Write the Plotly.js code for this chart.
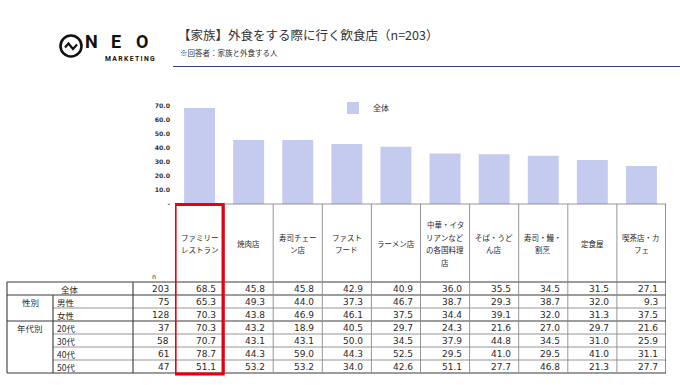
<!DOCTYPE html>
<html>
<head>
<meta charset="utf-8">
<script src="https://cdn.plot.ly/plotly-3.0.1.min.js"></script>
<style>html,body{margin:0;padding:0;background:#fff;}#chart{width:680px;height:385px;}</style>
</head>
<body>
<div id="chart"></div>
<script>
// ---------- DATA ----------
const categories = [
  "ファミリー\nレストラン", "焼肉店", "寿司チェー\nン店", "ファスト\nフード", "ラーメン店",
  "中華・イタ\nリアンなど\nの各国料理\n店", "そば・うど\nん店", "寿司・鰻・\n割烹", "定食屋", "喫茶店・カ\nフェ"
];
const overall = [68.5, 45.8, 45.8, 42.9, 40.9, 36.0, 35.5, 34.5, 31.5, 27.1];
const seriesName = "全体";
const yTickVals = [0, 10, 20, 30, 40, 50, 60, 70];
const yTickText = ["-", "10.0", "20.0", "30.0", "40.0", "50.0", "60.0", "70.0"];

const rowGroups = ["", "性別", "", "年代別", "", "", ""];
const rowLabels = ["全体", "男性", "女性", "20代", "30代", "40代", "50代"];
const rowN = [203, 75, 128, 37, 58, 61, 47];
const rowAll    = [68.5, 45.8, 45.8, 42.9, 40.9, 36.0, 35.5, 34.5, 31.5, 27.1];
const rowMale   = [65.3, 49.3, 44.0, 37.3, 46.7, 38.7, 29.3, 38.7, 32.0, 9.3];
const rowFemale = [70.3, 43.8, 46.9, 46.1, 37.5, 34.4, 39.1, 32.0, 31.3, 37.5];
const row20s    = [70.3, 43.2, 18.9, 40.5, 29.7, 24.3, 21.6, 27.0, 29.7, 21.6];
const row30s    = [70.7, 43.1, 43.1, 50.0, 34.5, 37.9, 44.8, 34.5, 31.0, 25.9];
const row40s    = [78.7, 44.3, 59.0, 44.3, 52.5, 29.5, 41.0, 29.5, 41.0, 31.1];
const row50s    = [51.1, 53.2, 53.2, 34.0, 42.6, 51.1, 27.7, 46.8, 21.3, 27.7];
const tableRows = [rowAll, rowMale, rowFemale, row20s, row30s, row40s, row50s];

const titleText = "【家族】外食をする際に行く飲食店（n=203）";
const subtitleText = "※回答者：家族と外食する人";

// ---------- LAYOUT HELPERS ----------
const W = 680, H = 385;
const px = x => x / W;
const py = y => 1 - y / H;
const JP = "Noto Sans CJK JP";
const NUM = "DejaVu Sans";
const TXT = "#2a2a2a";

const plotL = 175, plotR = 666, plotB = 204, plotT = 106;
const tableTop = 282, rowH = 13;
const rowTop = k => tableTop + rowH * k;
const rowMid = k => tableTop + rowH * k + rowH / 2;
const tableBottom = rowTop(rowLabels.length);
const xIdx = categories.map((_, i) => i);

const annotations = [];
const shapes = [];
function ann(o) { annotations.push(Object.assign({showarrow: false, borderpad: 0}, o)); }

// Header: title, subtitle
ann({xref: "paper", yref: "paper", x: px(177), y: py(34), xanchor: "left", yanchor: "middle",
     text: titleText, font: {family: JP, size: 12.5, color: "#333"}});
ann({xref: "paper", yref: "paper", x: px(179), y: py(52), xanchor: "left", yanchor: "middle",
     text: subtitleText, font: {family: JP, size: 7.5, color: "#333"}});
shapes.push({type: "line", xref: "paper", yref: "paper", x0: px(173), x1: px(680), y0: py(66.5), y1: py(66.5),
             line: {color: "#3b3f6b", width: 1.2}});

// Logo
shapes.push({type: "circle", xref: "paper", yref: "paper", x0: px(60.5), x1: px(81.5), y0: py(35.5), y1: py(56.5),
             line: {color: "#111", width: 2.6}});
shapes.push({type: "path", xref: "paper", yref: "paper",
             path: `M${px(65)},${py(47.5)} L${px(68.5)},${py(43.5)} L${px(73)},${py(49)} L${px(77)},${py(44.5)}`,
             line: {color: "#111", width: 2.2}});
["N", "E", "O"].forEach((ch, i) => {
  ann({xref: "paper", yref: "paper", x: px(91 + i * 25.3), y: py(41.5), xanchor: "center", yanchor: "middle",
       text: "<b>" + ch + "</b>", font: {family: "Roboto", size: 18, color: "#111", weight: 900}});
});
ann({xref: "paper", yref: "paper", x: px(130), y: py(59), xanchor: "center", yanchor: "middle",
     text: "<b>M\u2009A\u2009R\u2009K\u2009E\u2009T\u2009I\u2009N\u2009G</b>", font: {family: "Roboto", size: 6.8, color: "#111"}});

// Category header labels (each line placed from the category text)
categories.forEach((c, i) => {
  const lines = c.split("\n");
  lines.forEach((ln, j) => {
    const yc = 243.5 + (j - (lines.length - 1) / 2) * 12.4;
    ann({xref: "x", yref: "paper", x: i, y: py(yc), xanchor: "center", yanchor: "middle",
         text: ln, font: {family: JP, size: 7.5, color: TXT}});
  });
});

// "n" label
ann({xref: "paper", yref: "paper", x: px(154), y: py(277), xanchor: "center", yanchor: "middle",
     text: "n", font: {family: NUM, size: 6.5, color: "#333"}});

// Table row labels and numbers
rowLabels.forEach((lab, k) => {
  const ym = py(rowMid(k));
  if (k === 0) {
    ann({xref: "paper", yref: "paper", x: px(70), y: ym, xanchor: "center", yanchor: "middle",
         text: lab, font: {family: JP, size: 8.5, color: TXT}});
  } else {
    ann({xref: "paper", yref: "paper", x: px(55.5), y: ym, xanchor: "left", yanchor: "middle",
         text: lab, font: {family: JP, size: 8.5, color: TXT}});
  }
  if (rowGroups[k]) {
    ann({xref: "paper", yref: "paper", x: px(30), y: ym, xanchor: "center", yanchor: "middle",
         text: rowGroups[k], font: {family: JP, size: 8.5, color: TXT}});
  }
  ann({xref: "paper", yref: "paper", x: px(170), y: ym, xanchor: "right", yanchor: "middle",
       text: String(rowN[k]), font: {family: NUM, size: 9, color: TXT}});
  tableRows[k].forEach((v, i) => {
    ann({xref: "x", yref: "paper", x: i + 0.5, xshift: -7, y: ym, xanchor: "right", yanchor: "middle",
         text: v.toFixed(1), font: {family: NUM, size: 9, color: TXT}});
  });
});

// Grid lines
const dark = {color: "#3a3a3a", width: 1.1};
const light = {color: "#8a8a8a", width: 0.9};
function hline(y, x0, x1, line) {
  shapes.push({type: "line", xref: "paper", yref: "paper", x0: px(x0), x1: px(x1), y0: py(y), y1: py(y), line});
}
function vlinePaper(x, y0, y1, line) {
  shapes.push({type: "line", xref: "paper", yref: "paper", x0: px(x), x1: px(x), y0: py(y0), y1: py(y1), line});
}
hline(plotB, plotL, plotR, light);
hline(rowTop(0), 7, plotR, dark);
hline(rowTop(1), 7, plotR, dark);
hline(rowTop(2), 53, plotR, light);
hline(rowTop(3), 7, plotR, dark);
hline(rowTop(4), 53, plotR, light);
hline(rowTop(5), 53, plotR, light);
hline(rowTop(6), 53, plotR, light);
hline(tableBottom, 7, plotR, dark);
vlinePaper(7, rowTop(0), tableBottom, dark);
vlinePaper(53, rowTop(1), tableBottom, dark);
vlinePaper(133, rowTop(0), tableBottom, dark);
shapes.push({type: "line", xref: "x", yref: "paper", x0: -0.5, x1: -0.5, y0: py(plotB), y1: py(tableBottom), line: dark});
xIdx.forEach(i => {
  shapes.push({type: "line", xref: "x", yref: "paper", x0: i + 0.5, x1: i + 0.5, y0: py(plotB), y1: py(tableBottom),
               line: i === xIdx.length - 1 ? dark : light});
});
// highlight box on first category
shapes.push({type: "rect", xref: "x", yref: "paper", x0: -0.5, x1: 0.48, y0: py(204.5), y1: py(374),
             line: {color: "#e60012", width: 3.2}, fillcolor: "rgba(0,0,0,0)"});

const trace = {
  type: "bar",
  x: xIdx,
  y: overall,
  name: seriesName,
  marker: {color: "#c5cbee"},
  hoverinfo: "skip"
};

const layout = {
  width: W, height: H, autosize: false,
  margin: {l: 0, r: 0, t: 0, b: 0, pad: 0},
  paper_bgcolor: "#fff", plot_bgcolor: "#fff",
  bargap: 0.37,
  showlegend: true,
  legend: {x: px(333), y: py(108), xanchor: "left", yanchor: "middle", bgcolor: "rgba(0,0,0,0)",
           font: {family: JP, size: 8, color: "#333"}, itemwidth: 30},
  xaxis: {domain: [px(plotL), px(plotR)], range: [-0.5, 9.5], type: "linear",
          showticklabels: false, showgrid: false, zeroline: false, showline: false, ticks: ""},
  yaxis: {domain: [py(plotB), py(plotT)], range: [0, 70], tickvals: yTickVals, ticktext: yTickText,
          showgrid: false, zeroline: false, showline: false, ticks: "", ticklabelstandoff: 4,
          tickfont: {family: NUM, size: 6.2, color: "#333", weight: "bold"}},
  annotations, shapes
};

Plotly.newPlot("chart", [trace], layout, {staticPlot: true, displayModeBar: false});
</script>
</body>
</html>
